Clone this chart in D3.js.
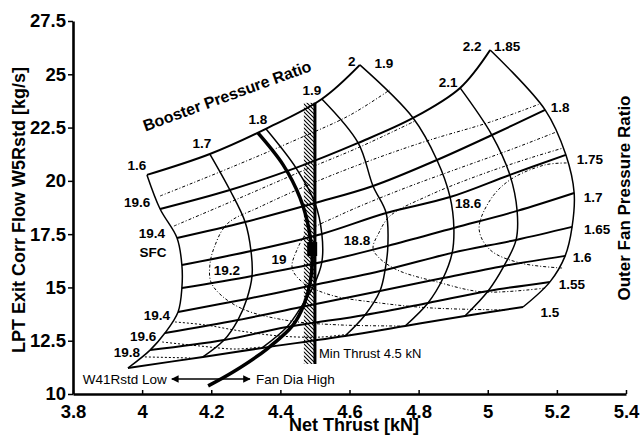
<!DOCTYPE html>
<meta charset="utf-8">
<style>
body { margin: 0; background: #fff; }
svg { font-family: "Liberation Sans", Arial, sans-serif; }
</style>
<svg width="641" height="435"></svg>
<script src="https://cdn.jsdelivr.net/npm/d3@7/dist/d3.min.js"></script>
<script>

// carpet: booster pressure ratio (arcs) x outer fan pressure ratio (rows)
var booster = ["1.6", "1.7", "1.8", "1.9", "2", "2.1", "2.2"];
var fan = ["1.5", "1.55", "1.6", "1.65", "1.7", "1.75", "1.8", "1.85", "1.9"];

// net thrust [kN] and corr flow [kg/s] at each fan ratio, one pair per booster ratio
var thrust_b16 = [3.959, 4.023, 4.066, 4.104, 4.115, 4.115, 4.101, 4.052, 4.014];
var flow_b16   = [11.22, 12.06, 12.86, 13.85, 14.97, 16.05, 17.32, 18.68, 20.28];
var thrust_b17 = [4.176, 4.237, 4.277, 4.303, 4.318, 4.315, 4.298, 4.254, 4.196];
var flow_b17   = [11.74, 12.53, 13.47, 14.46, 15.54, 16.71, 18.07, 19.57, 21.26];
var thrust_b18 = [4.347, 4.419, 4.460, 4.497, 4.520, 4.520, 4.500, 4.445, 4.358];
var flow_b18   = [12.16, 13.14, 14.08, 15.11, 16.19, 17.51, 18.96, 20.61, 22.44];
var thrust_b19 = [4.587, 4.645, 4.688, 4.703, 4.711, 4.706, 4.668, 4.625, 4.520];
var flow_b19   = [12.72, 13.71, 14.83, 15.82, 16.95, 18.49, 19.76, 21.78, 23.84];
var thrust_b20 = [4.761, 4.827, 4.871, 4.897, 4.902, 4.891, 4.853, 4.784, 4.630];
var flow_b20   = [13.19, 14.27, 15.44, 16.62, 17.79, 19.24, 20.98, 22.95, 25.44];
var thrust_b21 = [4.934, 5.001, 5.047, 5.082, 5.085, 5.064, 5.012, 4.920, null];
var flow_b21   = [13.66, 14.83, 16.01, 17.23, 18.59, 20.28, 22.15, 24.36, null];
var thrust_b22 = [5.102, 5.180, 5.224, 5.244, 5.250, 5.226, 5.166, 5.007, null];
var flow_b22   = [14.08, 15.26, 16.48, 17.84, 19.43, 21.22, 23.33, 26.14, null];

// SFC contours [thrust, flow]
var sfc196Upper = [[4.052,19.29],[4.254,20.61],[4.457,22.01],[4.602,23.09],[4.717,24.27]];
var sfc194Upper = [[4.092,17.88],[4.283,19.20],[4.457,20.42],[4.630,21.59],[4.790,22.81]];
var sfc192 = [[4.746,13.19],[4.573,13.24],[4.428,13.43],[4.298,13.94],[4.231,14.60],[4.199,15.26],
              [4.196,16.05],[4.208,16.85],[4.246,17.98],[4.341,18.78],[4.515,20.04],[4.688,21.12],
              [4.833,21.92],[5.007,22.76],[5.151,23.61]];
var sfc190 = [[5.050,13.94],[4.833,14.04],[4.688,14.27],[4.544,14.65],[4.463,15.26],[4.434,15.91],
              [4.448,16.76],[4.480,17.60],[4.573,18.40],[4.746,19.57],[4.920,20.61],[5.064,21.45],[5.198,22.29]];
var sfc188 = [[5.166,14.97],[4.986,14.79],[4.853,15.26],[4.738,15.82],[4.683,16.43],[4.668,16.85],
              [4.685,17.56],[4.717,18.35],[4.833,19.34],[4.978,20.28],[5.122,21.07],[5.218,21.54]];
var sfc186 = [[5.215,15.91],[5.093,16.15],[5.007,16.76],[4.975,17.74],[5.007,19.10],[5.064,20.04],
              [5.166,20.75],[5.235,20.84]];
var sfc194Lower = [[4.095,13.38],[4.182,13.24],[4.283,12.96],[4.399,12.72],[4.515,12.67],[4.602,12.82]];
var sfc196Lower = [[4.058,12.44],[4.168,12.25],[4.269,12.11],[4.347,12.21]];
var sfc198 = [[4.008,11.74],[4.139,11.69]];

// W41Rstd / fan diameter trade line
var tradeThrust = [4.335, 4.408, 4.457, 4.483, 4.492, 4.486, 4.468, 4.437, 4.361, 4.263, 4.191];
var tradeFlow   = [22.25, 20.75, 19.20, 17.70, 16.29, 15.21, 14.18, 13.24, 12.11, 11.03, 10.38];

var minThrust = 4.5;
var minThrustBand = [4.468, 4.5];
var minThrustFlow = [11.41, 23.66];
var designPoint = [4.492, 16.80];
var arrowThrust = [4.086, 4.312];
var arrowFlow = 10.70;

var xTicks = [3.8, 4, 4.2, 4.4, 4.6, 4.8, 5, 5.2, 5.4];
var yTicks = [10, 12.5, 15, 17.5, 20, 22.5, 25, 27.5];

var svg = d3.select("svg");
var x = d3.scaleLinear().domain([3.8, 5.4]).range([73, 626]);
var y = d3.scaleLinear().domain([10, 27.5]).range([394, 21]);

var line = d3.line()
    .x(function(d) { return x(d[0]); })
    .y(function(d) { return y(d[1]); })
    .curve(d3.curveCatmullRom.alpha(0.5));

var thrustGrid = [thrust_b16, thrust_b17, thrust_b18, thrust_b19, thrust_b20, thrust_b21, thrust_b22];
var flowGrid = [flow_b16, flow_b17, flow_b18, flow_b19, flow_b20, flow_b21, flow_b22];

function arcPoints(i) {
    return thrustGrid[i].map(function(t, j) { return [t, flowGrid[i][j]]; })
        .filter(function(p) { return p[0] != null; });
}
function rowPoints(j) {
    return thrustGrid.map(function(t, i) { return [t[j], flowGrid[i][j]]; })
        .filter(function(p) { return p[0] != null; });
}

// hatching for the min thrust band
var pat = svg.append("defs").append("pattern")
    .attr("id", "hatch")
    .attr("patternUnits", "userSpaceOnUse")
    .attr("width", 4).attr("height", 4);
pat.append("path")
    .attr("d", "M-1,-1L5,5M-1,3L1,5M3,-1L5,1")
    .attr("stroke", "#000").attr("stroke-width", 1.1);

// axes
var gx = svg.append("g")
    .attr("transform", "translate(0," + y(10) + ")")
    .call(d3.axisBottom(x).tickValues(xTicks).tickSizeInner(-4).tickSizeOuter(0).tickPadding(11)
        .tickFormat(function(d) { return String(+d.toFixed(1)); }));
var gy = svg.append("g")
    .attr("transform", "translate(" + x(3.8) + ",0)")
    .call(d3.axisLeft(y).tickValues(yTicks).tickSizeInner(5).tickSizeOuter(0).tickPadding(2)
        .tickFormat(function(d) { return String(d); }));
[gx, gy].forEach(function(g) {
    g.select(".domain").attr("stroke-width", 2.6);
    g.selectAll(".tick line").attr("stroke-width", 1.5);
    g.selectAll("text").attr("font-size", 18.5).attr("font-weight", "bold")
        .attr("font-family", "'Liberation Sans', Arial, sans-serif").attr("fill", "#000");
});

// min thrust band
svg.append("rect")
    .attr("x", x(minThrustBand[0]))
    .attr("y", y(minThrustFlow[1]))
    .attr("width", x(minThrustBand[1]) - x(minThrustBand[0]))
    .attr("height", y(minThrustFlow[0]) - y(minThrustFlow[1]))
    .attr("fill", "url(#hatch)");

// SFC contours
var contours = svg.append("g").attr("fill", "none").attr("stroke", "#000")
    .attr("stroke-width", 1).attr("stroke-dasharray", "3,2,1,2");
[sfc196Upper, sfc194Upper, sfc192, sfc190, sfc188, sfc186].forEach(function(c) {
    contours.append("path").attr("d", line(c));
});
[sfc194Lower, sfc196Lower, sfc198].forEach(function(c) {
    contours.append("path").attr("d", line(c)).attr("stroke-dasharray", "2,2");
});

// carpet lines
var grid = svg.append("g").attr("fill", "none").attr("stroke", "#000");
booster.forEach(function(b, i) {
    grid.append("path").attr("d", line(arcPoints(i))).attr("stroke-width", 1.5);
});
fan.forEach(function(f, j) {
    grid.append("path").attr("d", line(rowPoints(j))).attr("stroke-width", 2);
});

// trade line
svg.append("path")
    .attr("d", line(tradeThrust.map(function(t, i) { return [t, tradeFlow[i]]; })))
    .attr("fill", "none").attr("stroke", "#000").attr("stroke-width", 3.5);

// min thrust line and design point
svg.append("line")
    .attr("x1", x(minThrust)).attr("x2", x(minThrust))
    .attr("y1", y(minThrustFlow[1])).attr("y2", y(minThrustFlow[0]))
    .attr("stroke", "#000").attr("stroke-width", 3);
svg.append("rect")
    .attr("x", x(designPoint[0]) - 5).attr("y", y(designPoint[1]) - 7)
    .attr("width", 10).attr("height", 14).attr("fill", "#000");

// labels
var lab = svg.append("g").attr("font-size", 13.5).attr("font-weight", "bold")
    .attr("text-anchor", "middle").attr("dominant-baseline", "central");

function put(p, dx, dy, txt) {
    lab.append("text").attr("x", x(p[0]) + dx).attr("y", y(p[1]) + dy).text(txt);
}

var boosterOff = [[-10,-9],[-8,-11],[-8,-9],[-10,-9],[-8,-3],[-12,-5],[-18,-3]];
booster.forEach(function(b, i) {
    var pts = arcPoints(i);
    put(pts[pts.length - 1], boosterOff[i][0], boosterOff[i][1], b);
});
var fanOff = [[27,5],[22,3],[17,2],[25,3],[19,4],[24,5],[15,-2],[17,-3],[24,-1]];
fan.forEach(function(f, j) {
    var pts = rowPoints(j);
    put(pts[pts.length - 1], fanOff[j][0], fanOff[j][1], f);
});

put(sfc196Upper[0], -23, 7, "19.6");
put(sfc194Upper[0], -22, 7, "19.4");
put(sfc194Upper[0], -21, 26, "SFC");
put(sfc192[6], 17, 5, "19.2");
put(sfc190[5], -13, -9, "19");
put(sfc188[5], -16, -7, "18.8");
put(sfc186[3], -11, -26, "18.6");
put(sfc194Lower[0], -18, -6, "19.4");
put(sfc196Lower[0], -19, -5, "19.6");
put(sfc198[0], -18, -4, "19.8");

// min thrust note
svg.append("text")
    .attr("x", x(minThrust) + 4).attr("y", y(minThrustFlow[0]) - 6)
    .attr("font-size", 13).text("Min Thrust 4.5 kN");

// trade arrow
var mk = svg.select("defs").append("marker")
    .attr("id", "ah").attr("viewBox", "0 0 10 10").attr("refX", 9).attr("refY", 5)
    .attr("markerWidth", 7).attr("markerHeight", 5).attr("orient", "auto-start-reverse");
mk.append("path").attr("d", "M0,0L10,5L0,10Z").attr("fill", "#000");
svg.append("line")
    .attr("x1", x(arrowThrust[0])).attr("x2", x(arrowThrust[1]))
    .attr("y1", y(arrowFlow)).attr("y2", y(arrowFlow))
    .attr("stroke", "#000").attr("stroke-width", 1.5)
    .attr("marker-start", "url(#ah)").attr("marker-end", "url(#ah)");
svg.append("text").attr("x", x(arrowThrust[0]) - 5).attr("y", y(arrowFlow))
    .attr("text-anchor", "end").attr("dominant-baseline", "central")
    .attr("font-size", 13.5).text("W41Rstd Low");
svg.append("text").attr("x", x(arrowThrust[1]) + 6).attr("y", y(arrowFlow))
    .attr("dominant-baseline", "central")
    .attr("font-size", 13.5).text("Fan Dia High");

// titles
svg.append("text")
    .attr("transform", "translate(229,101) rotate(-20)")
    .attr("text-anchor", "middle").attr("font-size", 16).attr("font-weight", "bold")
    .text("Booster Pressure Ratio");
svg.append("text")
    .attr("transform", "translate(25,210) rotate(-90)")
    .attr("text-anchor", "middle").attr("font-size", 18).attr("font-weight", "bold")
    .text("LPT Exit Corr Flow W5Rstd [kg/s]");
svg.append("text")
    .attr("x", 354).attr("y", 431)
    .attr("text-anchor", "middle").attr("font-size", 18).attr("font-weight", "bold")
    .text("Net Thrust [kN]");
svg.append("text")
    .attr("transform", "translate(630,198) rotate(-90)")
    .attr("text-anchor", "middle").attr("font-size", 17).attr("font-weight", "bold")
    .text("Outer Fan Pressure Ratio");

</script>
